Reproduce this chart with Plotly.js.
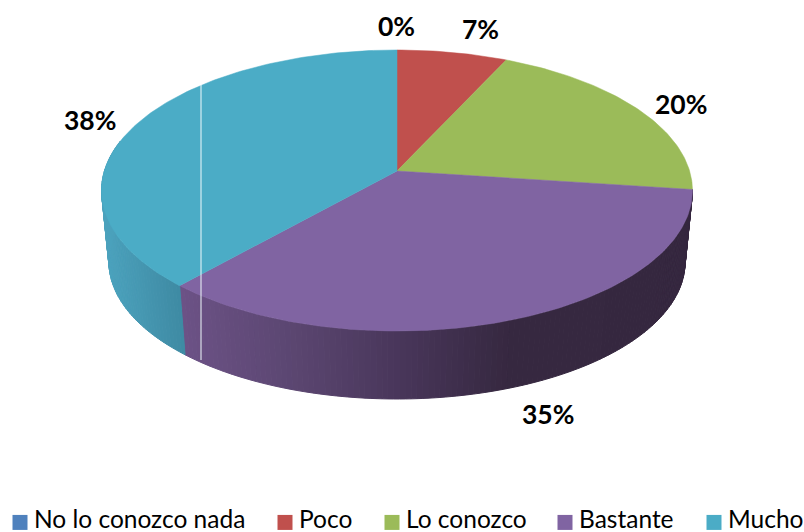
<!DOCTYPE html>
<html><head><meta charset="utf-8">
<script src="https://cdn.plot.ly/plotly-3.0.1.min.js"></script>
<style>html,body{margin:0;padding:0;background:#fff}#c{width:804px;height:532px}
.legendtext,.legend2text,.legend3text,.legend4text,.legend5text{transform:translate(-6px,-4px)}</style>
</head><body><div id="c"></div>
<script>
const categories = ["No lo conozco nada", "Poco", "Lo conozco", "Bastante", "Mucho"];
const percentValues = [0, 6.9, 20.2, 34.5, 38.4];
const sliceColors = ["#4F81BD", "#C0504D", "#9BBB59", "#8064A2", "#4BACC6"];
const labelX = [396, 480, 681, 548, 90];
const labelY = [26, 29, 104, 414, 120];
const legendLeft = [13, 278, 385, 558, 707];

// Projection of the tilted disc
const W = 804, H = 532, cx = 397, cy = 171, A = 292.6, B = 137.8, K = 0.1387;
const bottomScale = 0.975, bottomDy = 72;
function topPt(t) {
  const r = t * Math.PI / 180, X = Math.sin(r), Y = Math.cos(r), w = 1 + K * Y;
  return [cx + A * X / w, cy - B * Y / w];
}
function botPt(t) {
  const p = topPt(t);
  return [cx + (p[0] - cx) * bottomScale, cy + bottomDy + (p[1] - cy) * bottomScale];
}
function lerpStops(stops, x) {
  if (x <= stops[0][0]) return stops[0][1];
  for (let i = 1; i < stops.length; i++) {
    if (x <= stops[i][0]) {
      const a = stops[i - 1], b = stops[i], f = (x - a[0]) / (b[0] - a[0]);
      return a[1].map((v, j) => Math.round(v + (b[1][j] - v) * f));
    }
  }
  return stops[stops.length - 1][1];
}
const purpleShade = [[180,[108,82,134]],[290,[91,70,113]],[400,[72,54,90]],[510,[54,40,64]],[700,[53,39,63]]];
const blueShade = [[100,[76,163,190]],[180,[62,138,163]]];
const wallShade = {3: purpleShade, 4: blueShade};

// cumulative angles
const startAngle = [], endAngle = [];
let acc = 0;
percentValues.forEach((v, i) => { startAngle[i] = acc * 3.6; acc += v; endAngle[i] = acc * 3.6; });

const traces = [];
// side walls, near-side only
[3, 4].forEach(i => {
  const t0 = startAngle[i], t1 = Math.min(endAngle[i], 283);
  const step = 1;
  for (let t = t0; t < t1; t += step) {
    const e = Math.min(t + step, t1);
    const a = topPt(t), b = topPt(e), c = botPt(e), d = botPt(t);
    const col = lerpStops(wallShade[i], (a[0] + b[0]) / 2);
    const css = `rgb(${col[0]},${col[1]},${col[2]})`;
    traces.push({type:"scatter", mode:"lines", x:[a[0],b[0],c[0],d[0],a[0]], y:[a[1],b[1],c[1],d[1],a[1]],
      fill:"toself", fillcolor:css, line:{color:css, width:1}, showlegend:false, hoverinfo:"skip"});
  }
});
// top faces
percentValues.forEach((v, i) => {
  if (v <= 0) return;
  const xs = [cx], ys = [cy];
  for (let t = startAngle[i]; t < endAngle[i]; t += 1) { const p = topPt(t); xs.push(p[0]); ys.push(p[1]); }
  const p = topPt(endAngle[i]); xs.push(p[0], cx); ys.push(p[1], cy);
  traces.push({type:"scatter", mode:"lines", x:xs, y:ys, fill:"toself", fillcolor:sliceColors[i],
    line:{color:sliceColors[i], width:0.5}, showlegend:false, hoverinfo:"skip"});
});
// thin vertical artefact line
traces.push({type:"scatter", mode:"lines", x:[201,201], y:[85,360], line:{color:"rgba(240,250,252,1)", width:1},
  showlegend:false, hoverinfo:"skip"});
// legend entries
const legendFont = {family:"Lato, Carlito, sans-serif", size:24.5, color:"#000"};
const layoutLegends = {};
categories.forEach((c, i) => {
  const id = i === 0 ? "legend" : "legend" + (i + 1);
  traces.push({type:"scatter", mode:"markers", name:c, x:[null], y:[null],
    marker:{symbol:"square", size:15, color:sliceColors[i]}, legend:id, showlegend:true, hoverinfo:"skip"});
  layoutLegends[id] = {x:(legendLeft[i]-13)/W, xanchor:"left", y:(H-522.5)/H, yanchor:"middle",
    bgcolor:"rgba(0,0,0,0)", borderwidth:0, font:legendFont, itemclick:false, itemdoubleclick:false};
});

const layout = Object.assign({
  width:W, height:H, margin:{l:0,r:0,t:0,b:0,autoexpand:false}, paper_bgcolor:"#fff", plot_bgcolor:"#fff",
  hovermode:false, showlegend:true,
  xaxis:{range:[0,W], visible:false, fixedrange:true},
  yaxis:{range:[H,0], visible:false, fixedrange:true},
  annotations: percentValues.map((v, i) => ({x:labelX[i], y:labelY[i], xref:"x", yref:"y", showarrow:false,
    text:Math.round(v) + "%", font:{family:"Lato, Carlito, sans-serif", size:26.5, color:"#000", weight:700},
    xanchor:"center", yanchor:"middle"}))
}, layoutLegends);
Plotly.newPlot("c", traces, layout, {displayModeBar:false, staticPlot:true});
</script></body></html>
